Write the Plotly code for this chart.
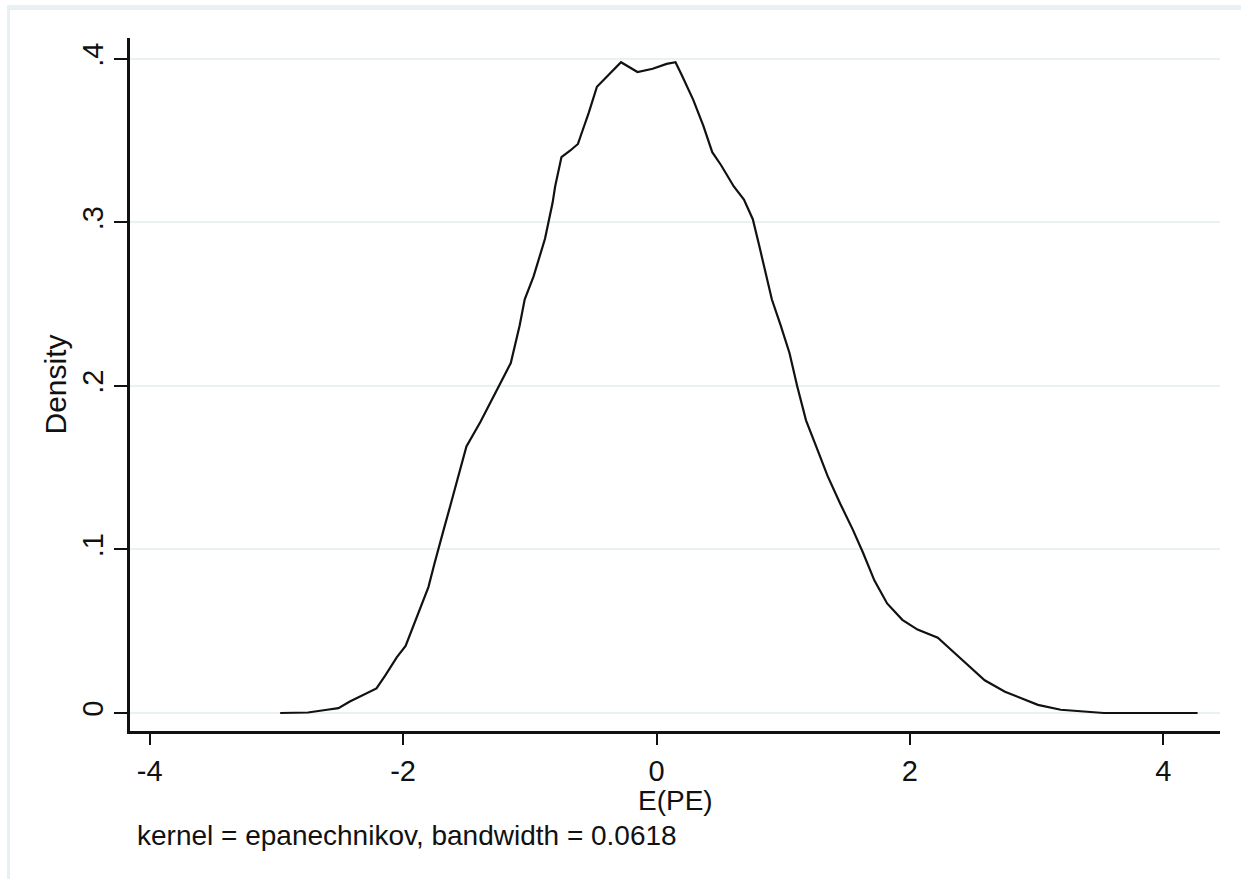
import plotly.graph_objects as go

# Kernel density estimate of E(PE), evaluated on a grid
pe_grid = [
    -2.97, -2.75, -2.60, -2.51, -2.42, -2.32, -2.21, -2.14, -2.05, -1.98,
    -1.94, -1.87, -1.80, -1.75, -1.72, -1.68, -1.63, -1.57, -1.53, -1.50,
    -1.39, -1.31, -1.22, -1.15, -1.08, -1.04, -0.97, -0.92, -0.88, -0.85,
    -0.82, -0.80, -0.77, -0.75, -0.68, -0.62, -0.58, -0.535, -0.47, -0.36,
    -0.28, -0.15, -0.03, 0.08, 0.15, 0.20, 0.29, 0.37, 0.44, 0.51,
    0.61, 0.69, 0.76, 0.81, 0.86, 0.91, 0.98, 1.05, 1.11, 1.18,
    1.26, 1.35, 1.45, 1.55, 1.63, 1.72, 1.82, 1.94, 2.06, 2.22,
    2.32, 2.46, 2.59, 2.75, 2.85, 3.01, 3.19, 3.50, 3.53, 4.27,
]
density = [
    0.0, 0.0003, 0.002, 0.003, 0.007, 0.011, 0.015, 0.023, 0.034, 0.041,
    0.049, 0.063, 0.077, 0.092, 0.100, 0.112, 0.126, 0.143, 0.155, 0.163,
    0.178, 0.190, 0.204, 0.214, 0.237, 0.253, 0.267, 0.280, 0.290, 0.301,
    0.312, 0.322, 0.333, 0.340, 0.344, 0.348, 0.357, 0.367, 0.383, 0.392,
    0.398, 0.392, 0.394, 0.397, 0.398, 0.390, 0.375, 0.359, 0.343, 0.335,
    0.322, 0.314, 0.302, 0.286, 0.269, 0.253, 0.237, 0.220, 0.200, 0.179,
    0.163, 0.145, 0.128, 0.112, 0.098, 0.081, 0.067, 0.057, 0.051, 0.046,
    0.039, 0.029, 0.020, 0.013, 0.010, 0.005, 0.002, 0.0005, 0.0, 0.0,
]

x_ticks = [-4, -2, 0, 2, 4]
x_tick_labels = ["-4", "-2", "0", "2", "4"]
y_ticks = [0, 0.1, 0.2, 0.3, 0.4]
y_tick_labels = ["0", ".1", ".2", ".3", ".4"]

x_title = "E(PE)"
y_title = "Density"
note_text = "kernel = epanechnikov, bandwidth = 0.0618"

FONT = "Liberation Sans, Arial, sans-serif"
INK = "#111111"
GRID = "#e9f1f3"
FRAME = "#e9f0f3"

W, H = 1241, 879
L, R, T, B = 130, 21, 38, 148
pw, ph = W - L - R, H - T - B


def px_x(p):
    return (p - L) / pw


def px_y(p):
    return (H - B - p) / ph


fig = go.Figure()
fig.add_trace(go.Scatter(
    x=pe_grid, y=density, mode="lines",
    line=dict(color=INK, width=2.2),
    hoverinfo="skip", showlegend=False,
))

fig.update_layout(
    width=W, height=H,
    margin=dict(l=L, r=R, t=T, b=B, autoexpand=False),
    paper_bgcolor="white", plot_bgcolor="white",
    font=dict(family=FONT, color=INK),
    showlegend=False,
    xaxis=dict(
        range=[-4.155, 4.447], tickvals=x_ticks, ticktext=x_tick_labels,
        showgrid=False, zeroline=False,
        showline=True, linecolor=INK, linewidth=2.5,
        ticks="outside", ticklen=11, tickwidth=2, tickcolor=INK,
        tickfont=dict(size=29, family=FONT, color=INK),
        ticklabelstandoff=1,
    ),
    yaxis=dict(
        range=[-0.011, 0.4128], tickvals=y_ticks, ticktext=y_tick_labels,
        showgrid=True, gridcolor=GRID, gridwidth=2, zeroline=False,
        showline=True, linecolor=INK, linewidth=2.5,
        ticks="outside", ticklen=13, tickwidth=2, tickcolor=INK,
        tickangle=-90,
        tickfont=dict(size=29, family=FONT, color=INK),
    ),
    shapes=[
        dict(type="rect", xref="paper", yref="paper",
             x0=px_x(7), x1=px_x(W), y0=px_y(10), y1=px_y(5),
             fillcolor=FRAME, line=dict(width=0), layer="below"),
        dict(type="rect", xref="paper", yref="paper",
             x0=px_x(7), x1=px_x(10), y0=px_y(H), y1=px_y(5),
             fillcolor=FRAME, line=dict(width=0), layer="below"),
    ],
    annotations=[
        dict(text=x_title, xref="paper", yref="paper",
             x=0.5, y=px_y(800), xanchor="center", yanchor="middle",
             showarrow=False, font=dict(size=28, family=FONT, color=INK)),
        dict(text=y_title, xref="paper", yref="paper",
             x=px_x(55), y=0.5, xanchor="center", yanchor="middle",
             textangle=-90, showarrow=False,
             font=dict(size=30, family=FONT, color=INK)),
        dict(text=note_text, xref="paper", yref="paper",
             x=px_x(135), y=px_y(835), xanchor="left", yanchor="middle",
             showarrow=False, font=dict(size=28, family=FONT, color=INK)),
    ],
)

fig.write_html("out.html")
